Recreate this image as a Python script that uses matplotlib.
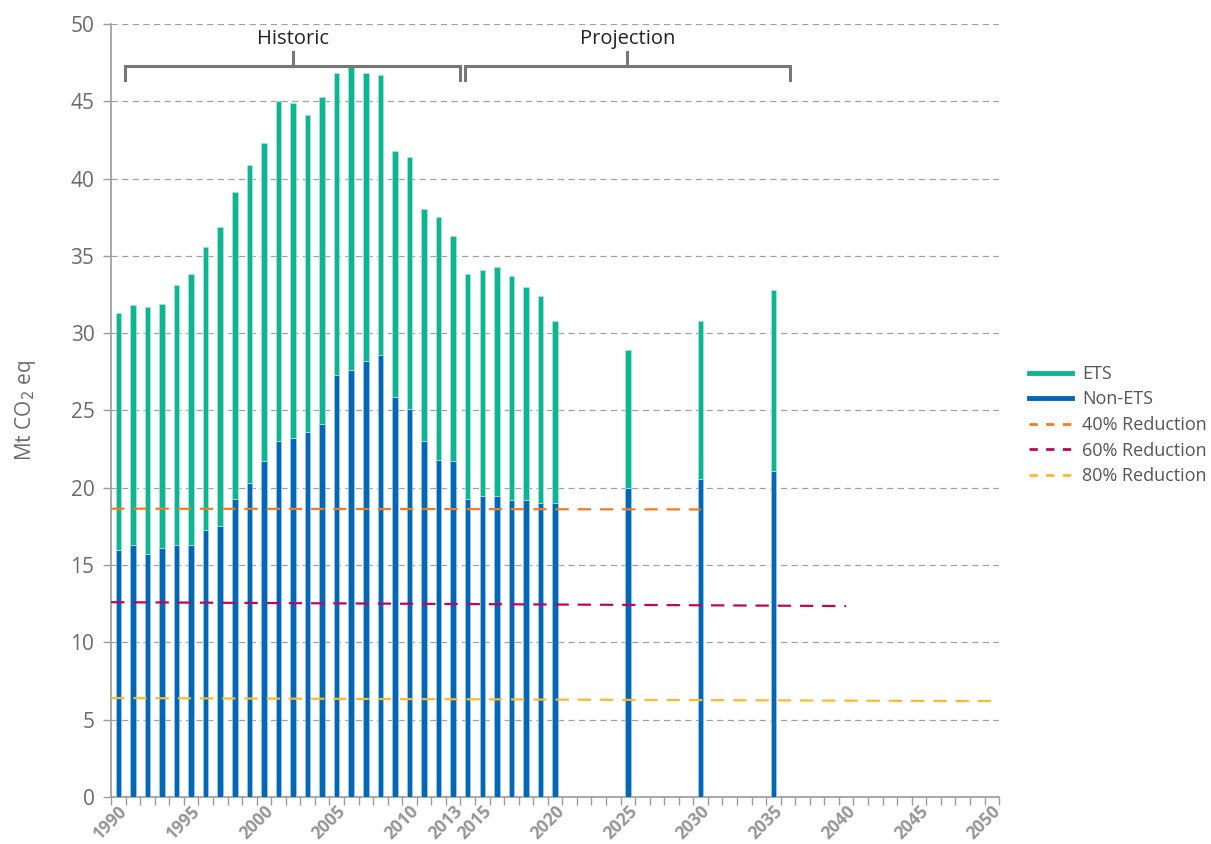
import matplotlib
matplotlib.use("Agg")
import matplotlib.pyplot as plt
from matplotlib.lines import Line2D
import numpy as np

plt.rcParams['font.family'] = ['Open Sans', 'DejaVu Sans']

# ---------------- data ----------------
categories = list(range(1990, 2051))
bar_years = list(range(1990, 2021)) + [2025, 2030, 2035]
total = [31.3, 31.8, 31.7, 31.9, 33.1, 33.8, 35.6, 36.9, 39.1, 40.9,
         42.3, 45.0, 44.9, 44.1, 45.3, 46.8, 47.3, 46.8, 46.7, 41.8,
         41.4, 38.0, 37.5, 36.3, 33.8, 34.1, 34.3, 33.7, 33.0, 32.4,
         30.8, 28.9, 30.8, 32.8]
non_ets = [16.0, 16.3, 15.7, 16.1, 16.3, 16.3, 17.3, 17.5, 19.3, 20.3,
           21.7, 23.0, 23.2, 23.6, 24.1, 27.3, 27.6, 28.2, 28.6, 25.9,
           25.1, 23.0, 21.8, 21.7, 19.3, 19.5, 19.5, 19.2, 19.2, 19.0,
           19.0, 20.0, 20.6, 21.1]
ets = [t - n for t, n in zip(total, non_ets)]

# reduction targets: (start value, end year, end value)
red_labels = ['40% Reduction', '60% Reduction', '80% Reduction']
red_start = [18.65, 12.6, 6.4]
red_end_year = [2030, 2040, 2050]
red_end = [18.6, 12.35, 6.2]
red_colors = ['#f47a22', '#c0045f', '#fdb92b']

tick_label_years = [1990, 1995, 2000, 2005, 2010, 2013, 2015, 2020,
                    2025, 2030, 2035, 2040, 2045, 2050]

periods = ['Historic', 'Projection']

# ---------------- style ----------------
green = '#0db592'
blue = '#0068b4'
gray_txt = '#6b6b6b'
grid_c = '#a0a0a0'

fig = plt.figure(figsize=(12.11, 8.44), dpi=100)
ax = fig.add_axes([0.0917, 0.0557, 0.7333, 0.9159])

xpos = [categories.index(y) for y in bar_years]
bw = 0.38
ax.bar(xpos, non_ets, width=bw, color=blue, edgecolor='#9cc4e4',
       linewidth=0.6, zorder=3, label='Non-ETS')
ax.bar(xpos, ets, width=bw, bottom=non_ets, color=green, edgecolor='#a6e3d3',
       linewidth=0.6, zorder=3, label='ETS')

for lab, s, ey, e, c in zip(red_labels, red_start, red_end_year, red_end, red_colors):
    ax.plot([-0.5, categories.index(ey)], [s, e], color=c, lw=1.6,
            dashes=(6.0, 4.0), zorder=4, solid_capstyle='butt')

ax.set_xlim(-0.5, len(categories) - 0.5)
ax.set_ylim(0, 50)
ax.set_yticks(np.arange(0, 51, 5))
ax.yaxis.grid(True, color=grid_c, lw=0.9, dashes=(5, 3.5))
ax.set_axisbelow(True)

ax.set_xticks(np.arange(-0.5, len(categories), 1.0), minor=True)
ax.set_xticks([categories.index(y) for y in tick_label_years])
ax.set_xticklabels([str(y) for y in tick_label_years], rotation=45,
                   ha='right', va='top', rotation_mode='anchor',
                   fontsize=12.5, fontweight='bold', color='#959595')
ax.tick_params(axis='x', which='major', length=0, pad=4)
ax.tick_params(axis='x', which='minor', length=6, width=1, color='#9a9a9a')
ax.tick_params(axis='y', length=6, width=1, color='#9a9a9a',
               labelsize=15, labelcolor=gray_txt, pad=6)

for sp in ['top', 'right']:
    ax.spines[sp].set_visible(False)
for sp in ['left', 'bottom']:
    ax.spines[sp].set_color('#9a9a9a')
    ax.spines[sp].set_linewidth(1.2)

ax.set_ylabel(r'Mt CO$_2$ eq', fontsize=15, color=gray_txt, labelpad=23)

# brackets
bk = '#777777'
brackets = [(0.48, 23.46), (23.8, 46.15)]
for name, (a, b) in zip(periods, brackets):
    m = (a + b) / 2
    ax.plot([a, a, b, b], [46.4, 47.3, 47.3, 46.4], color=bk, lw=2.2,
            clip_on=False, zorder=5, solid_joinstyle='miter')
    ax.plot([m, m], [47.3, 48.2], color=bk, lw=2.2, clip_on=False, zorder=5)
    ax.text(m, 49.0, name, ha='center', va='center', fontsize=14.5,
            color='#222222')

handles = [Line2D([], [], color=green, lw=3.5),
           Line2D([], [], color=blue, lw=3.5)]
handles += [Line2D([], [], color=c, lw=2, dashes=(3, 3)) for c in red_colors]
labels = ['ETS', 'Non-ETS'] + red_labels
fig.legend(handles, labels, loc='upper left', bbox_to_anchor=(0.836, 0.587),
           frameon=False, fontsize=13, labelcolor='#555555',
           handlelength=2.4, handletextpad=0.55, labelspacing=0.42)

fig.savefig('out.png', dpi=100)
